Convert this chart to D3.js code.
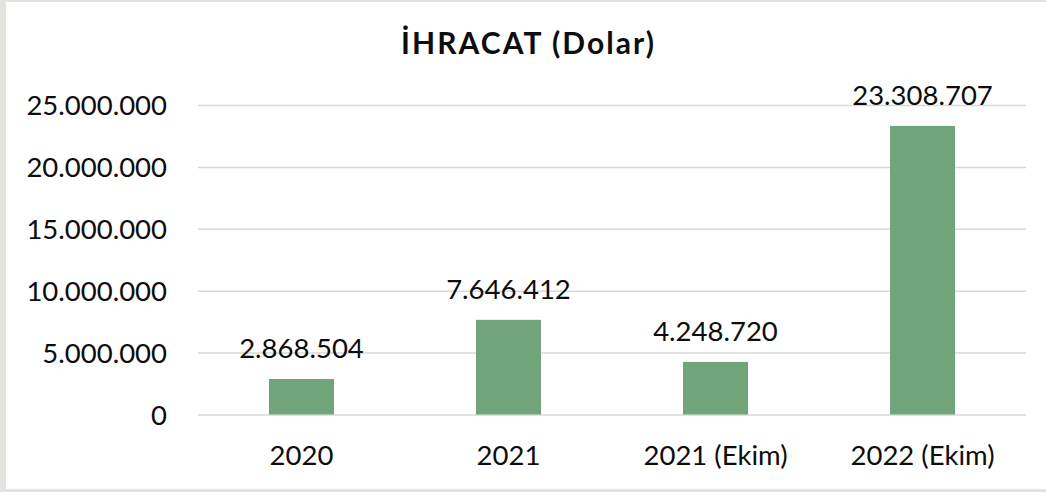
<!DOCTYPE html>
<html>
<head>
<meta charset="utf-8">
<script src="https://cdn.jsdelivr.net/npm/d3@7"></script>
<style>
  html, body { margin: 0; padding: 0; background: #e3e3df; }
  svg { display: block; }
  text { font-family: Lato, "Open Sans", sans-serif; fill: #0d0d0d; }
</style>
</head>
<body>
<svg id="chart" width="1046" height="492"></svg>
<script>
// Export figures in US dollars
const categories = ["2020", "2021", "2021 (Ekim)", "2022 (Ekim)"];
const values = [2868504, 7646412, 4248720, 23308707];
const tickValues = [0, 5000000, 10000000, 15000000, 20000000, 25000000];
const title = "İHRACAT (Dolar)";

const svg = d3.select("#chart");
const W = 1046, H = 492;

// white card with a thin grey frame on the left, top and bottom
svg.append("rect").attr("x", 0).attr("y", 0).attr("width", W).attr("height", H).attr("fill", "#e3e3df");
svg.append("rect").attr("x", 6).attr("y", 2).attr("width", W - 6).attr("height", 487).attr("fill", "#ffffff");

const plot = { left: 198, right: 1026, top: 105, bottom: 414.5 };

const x = d3.scaleBand()
  .domain(categories)
  .range([plot.left, plot.right])
  .paddingInner(0.686)
  .paddingOuter(0.343);

const y = d3.scaleLinear()
  .domain([0, 25000000])
  .range([plot.bottom, plot.top]);

// Turkish style thousands separator
const fmt = d3.formatLocale({ decimal: ",", thousands: ".", grouping: [3], currency: ["", ""] }).format(",d");

// horizontal gridlines + y labels via axis
const yAxis = d3.axisLeft(y)
  .tickValues(tickValues)
  .tickFormat(fmt)
  .tickSize(-(plot.right - plot.left))
  .tickPadding(31);

const gy = svg.append("g")
  .attr("transform", `translate(${plot.left},0)`)
  .call(yAxis);
gy.select(".domain").remove();
gy.selectAll(".tick line").attr("stroke", "#d9d9d9").attr("stroke-width", 1.5);
gy.selectAll(".tick text")
  .attr("font-size", 27.5)
  .attr("dy", "0.36em")
  .style("fill", "#0d0d0d");

// bars
svg.append("g").selectAll("rect")
  .data(values)
  .join("rect")
  .attr("x", (d, i) => x(categories[i]))
  .attr("width", x.bandwidth())
  .attr("y", d => y(d))
  .attr("height", d => y(0) - y(d))
  .attr("fill", "#71a479");

// value labels
svg.append("g").selectAll("text")
  .data(values)
  .join("text")
  .attr("x", (d, i) => x(categories[i]) + x.bandwidth() / 2)
  .attr("y", d => y(d) - 20.5)
  .attr("text-anchor", "middle")
  .attr("font-size", 27.5)
  .text(d => fmt(d));

// category labels
const xAxis = d3.axisBottom(x).tickSize(0).tickPadding(0);
const gx = svg.append("g")
  .attr("transform", `translate(0,${plot.bottom})`)
  .call(xAxis);
gx.select(".domain").remove();
gx.selectAll(".tick text")
  .attr("font-size", 27.5)
  .attr("y", 50.5)
  .attr("dy", 0)
  .style("fill", "#0d0d0d");

// title
svg.append("text")
  .attr("x", 527.5)
  .attr("y", 53.5)
  .attr("text-anchor", "middle")
  .attr("font-size", 30)
  .attr("font-weight", "bold")
  .attr("textLength", 253)
  .attr("lengthAdjust", "spacing")
  .text(title);
</script>
</body>
</html>
